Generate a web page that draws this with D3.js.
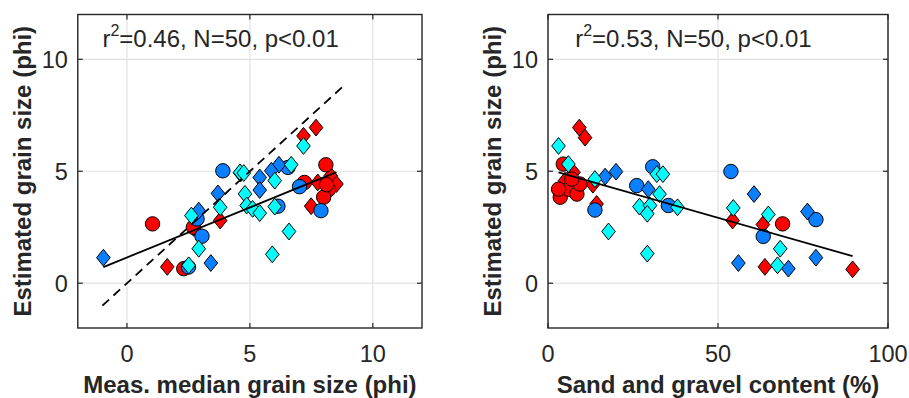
<!DOCTYPE html>
<html>
<head>
<meta charset="utf-8">
<script src="https://cdn.jsdelivr.net/npm/d3@7"></script>
<style>
  body { margin: 0; background: #fff; }
  svg { display: block; }
  text { font-family: "Liberation Sans", Arial, Helvetica, sans-serif; fill: #262626; }
</style>
</head>
<body>
<script>
// estimated vs measured grain size, two scatter panels

var yTicks = [0, 5, 10],
    leftTicks = [0, 5, 10],
    rightTicks = [0, 50, 100];

// left panel: [measured median phi, estimated phi]
var leftRedCircles = [[1.04, 2.65], [2.31, 0.65], [2.70, 2.50], [7.22, 4.50], [8.09, 5.29], [8.20, 4.18], [8.00, 3.84], [8.12, 4.40]];
var leftRedDiamonds = [[1.64, 0.73], [2.71, 2.47], [3.79, 2.80], [7.69, 6.95], [7.18, 6.58], [7.76, 4.50], [8.29, 4.80], [8.52, 4.43], [7.49, 3.44]];
var leftBlueCircles = [[3.90, 5.02], [2.85, 2.87], [3.05, 2.10], [6.55, 5.17], [6.14, 3.44], [7.02, 4.31], [7.89, 3.24], [2.50, 0.72]];
var leftBlueDiamonds = [[-0.96, 1.14], [3.70, 4.01], [2.92, 3.24], [3.41, 0.90], [6.18, 5.29], [5.87, 5.02], [5.40, 4.72], [5.40, 4.16], [4.62, 4.90]];
var leftCyanDiamonds = [[2.62, 3.02], [3.79, 3.39], [2.92, 1.54], [2.51, 0.80], [7.18, 6.13], [6.68, 5.29], [6.01, 4.58], [4.80, 3.99],
                        [4.60, 4.95], [4.75, 4.92], [4.87, 3.47], [5.11, 3.32], [5.40, 3.13], [6.01, 3.42], [6.59, 2.31], [5.91, 1.29]];

// right panel: [sand and gravel %, estimated phi]
var rightRedCircles = [[4.5, 5.32], [3.6, 3.84], [6.0, 4.20], [8.5, 3.98], [9.4, 4.43], [7.0, 4.65], [3.1, 4.20], [69.0, 2.65]];
var rightRedDiamonds = [[9.2, 6.95], [10.9, 6.50], [7.5, 4.95], [5.0, 4.58], [14.3, 3.54], [13.2, 4.40], [54.3, 2.80], [63.2, 2.62], [63.8, 0.73], [89.6, 0.62]];
var rightBlueCircles = [[13.8, 3.27], [26.1, 4.36], [30.8, 5.20], [35.4, 3.47], [53.8, 4.99], [63.3, 2.09], [78.8, 2.84]];
var rightBlueDiamonds = [[16.8, 4.76], [20.0, 4.98], [29.5, 4.20], [60.6, 3.98], [76.3, 3.20], [56.0, 0.90], [70.7, 0.65], [78.8, 1.14]];
var rightCyanDiamonds = [[3.1, 6.13], [6.0, 5.32], [13.8, 4.65], [17.8, 2.31], [32.0, 4.87], [33.8, 4.87], [32.8, 3.98], [26.9, 3.42],
                         [30.0, 3.47], [29.2, 3.10], [38.1, 3.39], [29.2, 1.32], [54.5, 3.36], [64.8, 3.07], [68.3, 1.54], [67.5, 0.80]];

// least-squares fits: [intercept, slope, xmin, xmax]
var leftFit = [1.15, 0.447, -0.96, 8.52],
    rightFit = [5.08, -0.0432, 3.1, 89.6],
    oneToOne = [-1, 8.75];

var leftStats = ["0.46", "50", "p<0.01"],
    rightStats = ["0.53", "50", "p<0.01"];

var W = 909, H = 398,
    plotTop = 14.5, plotBottom = 328;

var colors = { red: "#ff0000", blue: "#0a7fff", cyan: "#00ffff" };

var svg = d3.select("body").append("svg")
    .attr("width", W)
    .attr("height", H);

var y = d3.scaleLinear().domain([-2, 12]).range([plotBottom, plotTop]);

function diamondPath(w, h) {
  return "M0," + (-h) + "L" + w + ",0L0," + h + "L" + (-w) + ",0Z";
}

function panel(cfg) {
  var x = d3.scaleLinear().domain(cfg.domain).range([cfg.left, cfg.right]);
  var g = svg.append("g");

  // grid
  g.selectAll(".gx").data(cfg.xTicks).enter().append("line")
    .attr("x1", d => x(d)).attr("x2", d => x(d))
    .attr("y1", plotTop).attr("y2", plotBottom)
    .attr("stroke", "#e2e2e2").attr("stroke-width", 1.2);
  g.selectAll(".gy").data(yTicks).enter().append("line")
    .attr("x1", cfg.left).attr("x2", cfg.right)
    .attr("y1", d => y(d)).attr("y2", d => y(d))
    .attr("stroke", "#e2e2e2").attr("stroke-width", 1.2);

  // markers
  cfg.series.forEach(function(s) {
    var sel = g.append("g").selectAll("path").data(s.data).enter().append("path")
      .attr("transform", d => "translate(" + x(d[0]) + "," + y(d[1]) + ")")
      .attr("fill", colors[s.color])
      .attr("stroke", "#000")
      .attr("stroke-width", 1);
    if (s.shape == "circle") sel.attr("d", d3.symbol().type(d3.symbolCircle).size(Math.PI * 7.2 * 7.2));
    else sel.attr("d", diamondPath(6.8, 8.4));
  });

  // 1:1 line
  if (cfg.ref) {
    g.append("line")
      .attr("x1", x(cfg.ref[0])).attr("y1", y(cfg.ref[0]))
      .attr("x2", x(cfg.ref[1])).attr("y2", y(cfg.ref[1]))
      .attr("stroke", "#000").attr("stroke-width", 1.8)
      .attr("stroke-dasharray", "9,6");
  }

  // regression line
  var f = cfg.fit;
  g.append("line")
    .attr("x1", x(f[2])).attr("y1", y(f[0] + f[1] * f[2]))
    .attr("x2", x(f[3])).attr("y2", y(f[0] + f[1] * f[3]))
    .attr("stroke", "#000").attr("stroke-width", 1.8);

  // axes box with inward ticks
  g.append("rect")
    .attr("x", cfg.left).attr("y", plotTop)
    .attr("width", cfg.right - cfg.left).attr("height", plotBottom - plotTop)
    .attr("fill", "none").attr("stroke", "#262626").attr("stroke-width", 1.4);

  var ax = g.append("g");
  cfg.xTicks.forEach(function(t) {
    ax.append("line").attr("x1", x(t)).attr("x2", x(t)).attr("y1", plotBottom).attr("y2", plotBottom - 5);
    ax.append("line").attr("x1", x(t)).attr("x2", x(t)).attr("y1", plotTop).attr("y2", plotTop + 5);
  });
  yTicks.forEach(function(t) {
    ax.append("line").attr("x1", cfg.left).attr("x2", cfg.left + 5).attr("y1", y(t)).attr("y2", y(t));
    ax.append("line").attr("x1", cfg.right).attr("x2", cfg.right - 5).attr("y1", y(t)).attr("y2", y(t));
  });
  ax.selectAll("line").attr("stroke", "#262626").attr("stroke-width", 1.2);

  g.selectAll(".xt").data(cfg.xTicks).enter().append("text")
    .attr("x", d => x(d)).attr("y", 362)
    .attr("text-anchor", "middle")
    .style("font-size", "23.5px")
    .text(d => d);
  g.selectAll(".yt").data(yTicks).enter().append("text")
    .attr("x", cfg.left - 10).attr("y", d => y(d) + 9)
    .attr("text-anchor", "end")
    .style("font-size", "23.5px")
    .text(d => d);

  // statistics text
  var st = g.append("text")
    .attr("x", x(cfg.statX)).attr("y", 47)
    .style("font-size", "24px");
  st.append("tspan").text("r");
  st.append("tspan").attr("dy", -11).style("font-size", "16px").text("2");
  st.append("tspan").attr("dy", 11).text("=" + cfg.stats[0] + ", N=" + cfg.stats[1] + ", " + cfg.stats[2]);

  // axis labels
  g.append("text")
    .attr("x", (cfg.left + cfg.right) / 2).attr("y", 393)
    .attr("text-anchor", "middle")
    .style("font-size", "24px").style("font-weight", "bold")
    .text(cfg.xLabel);
  g.append("text")
    .attr("transform", "translate(" + (cfg.left - 47) + "," + ((plotTop + plotBottom) / 2) + ") rotate(-90)")
    .attr("text-anchor", "middle")
    .style("font-size", "24px").style("font-weight", "bold")
    .text("Estimated grain size (phi)");
}

panel({
  left: 77.8, right: 422, domain: [-2, 12], xTicks: leftTicks,
  series: [
    { data: leftRedDiamonds, color: "red", shape: "diamond" },
    { data: leftRedCircles, color: "red", shape: "circle" },
    { data: leftBlueCircles, color: "blue", shape: "circle" },
    { data: leftBlueDiamonds, color: "blue", shape: "diamond" },
    { data: leftCyanDiamonds, color: "cyan", shape: "diamond" }
  ],
  fit: leftFit, ref: oneToOne,
  statX: -1, stats: leftStats,
  xLabel: "Meas. median grain size (phi)"
});

panel({
  left: 548, right: 888, domain: [0, 100], xTicks: rightTicks,
  series: [
    { data: rightRedDiamonds, color: "red", shape: "diamond" },
    { data: rightRedCircles, color: "red", shape: "circle" },
    { data: rightBlueCircles, color: "blue", shape: "circle" },
    { data: rightBlueDiamonds, color: "blue", shape: "diamond" },
    { data: rightCyanDiamonds, color: "cyan", shape: "diamond" }
  ],
  fit: rightFit, ref: null,
  statX: 8, stats: rightStats,
  xLabel: "Sand and gravel content (%)"
});
</script>
</body>
</html>
